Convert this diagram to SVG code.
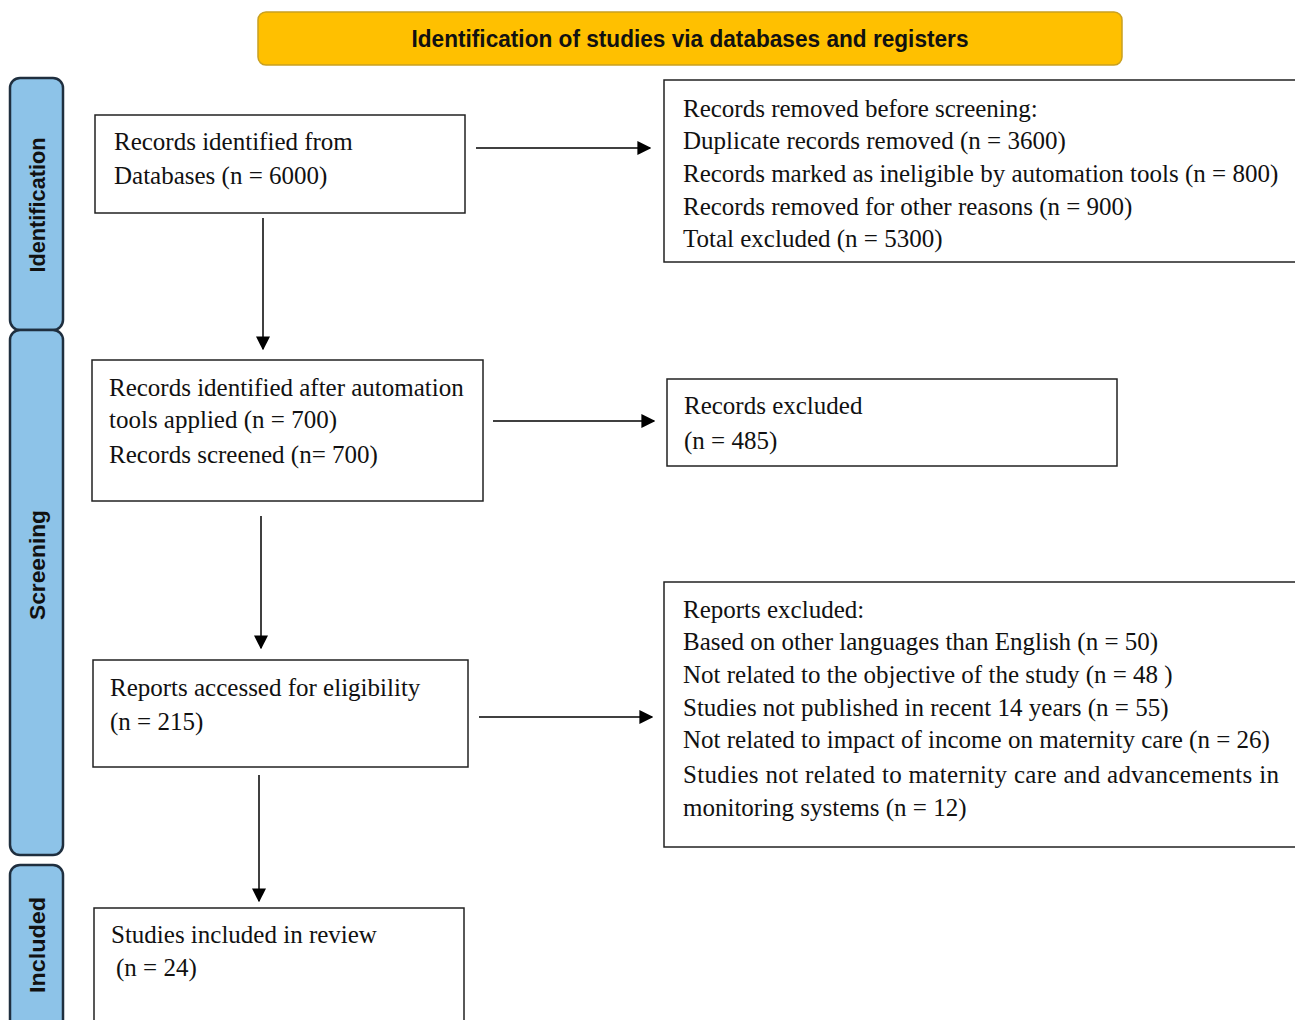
<svg xmlns="http://www.w3.org/2000/svg" width="1295" height="1020" viewBox="0 0 1295 1020">
<style>
.box{fill:#fff;stroke:#222;stroke-width:1.5}
.side{fill:#8DC3E8;stroke:#1f2f3f;stroke-width:2.5}
.t{font-family:"Liberation Serif","Times New Roman",serif;font-size:25px;fill:#111}
.s{font-family:"Liberation Sans",Arial,sans-serif;font-weight:bold;font-size:22px;fill:#111}
.c{stroke:#000;stroke-width:1.5;fill:none;marker-end:url(#ah)}
</style>
<defs>
<marker id="ah" viewBox="0 0 10 10" refX="9" refY="5" markerWidth="14" markerHeight="14" markerUnits="userSpaceOnUse" orient="auto">
<path d="M0,0 L10,5 L0,10 z" fill="#000"/>
</marker>
</defs>
<rect width="1295" height="1020" fill="#fff"/>
<g id="banner">
<rect x="258" y="12" width="864" height="53" rx="8" fill="#FFC000" stroke="#C9A020" stroke-width="1.5"/>
<text class="s" x="690" y="47" text-anchor="middle" style="font-size:23px" textLength="557" lengthAdjust="spacingAndGlyphs">Identification of studies via databases and registers</text>
</g>
<g id="side-identification">
<rect class="side" x="10" y="78" width="53" height="252" rx="10"/>
<text class="s" transform="translate(45,205) rotate(-90)" text-anchor="middle" textLength="135" lengthAdjust="spacingAndGlyphs">Identification</text>
</g>
<g id="side-screening">
<rect class="side" x="10" y="330" width="53" height="525" rx="10"/>
<text class="s" transform="translate(45,565) rotate(-90)" text-anchor="middle" textLength="110" lengthAdjust="spacingAndGlyphs">Screening</text>
</g>
<g id="side-included">
<rect class="side" x="10" y="865" width="53" height="170" rx="10"/>
<text class="s" transform="translate(45,945) rotate(-90)" text-anchor="middle" textLength="96" lengthAdjust="spacingAndGlyphs">Included</text>
</g>
<g id="n1">
<rect class="box" x="95" y="115" width="370" height="98"/>
<text class="t" x="114" y="150">Records identified from</text>
<text class="t" x="114" y="184">Databases (n = 6000)</text>
</g>
<g id="n2">
<rect class="box" x="664" y="80" width="640" height="182"/>
<text class="t" x="683" y="117">Records removed before screening:</text>
<text class="t" x="683" y="149">Duplicate records removed (n = 3600)</text>
<text class="t" x="683" y="182">Records marked as ineligible by automation tools (n = 800)</text>
<text class="t" x="683" y="215">Records removed for other reasons (n = 900)</text>
<text class="t" x="683" y="247">Total excluded (n = 5300)</text>
</g>
<g id="n3">
<rect class="box" x="92" y="360" width="391" height="141"/>
<text class="t" x="109" y="396">Records identified after automation</text>
<text class="t" x="109" y="428">tools applied (n = 700)</text>
<text class="t" x="109" y="463">Records screened (n= 700)</text>
</g>
<g id="n4">
<rect class="box" x="667" y="379" width="450" height="87"/>
<text class="t" x="684" y="414">Records excluded</text>
<text class="t" x="684" y="449">(n = 485)</text>
</g>
<g id="n5">
<rect class="box" x="93" y="660" width="375" height="107"/>
<text class="t" x="110" y="696">Reports accessed for eligibility</text>
<text class="t" x="110" y="730">(n = 215)</text>
</g>
<g id="n6">
<rect class="box" x="664" y="582" width="640" height="265"/>
<text class="t" x="683" y="618">Reports excluded:</text>
<text class="t" x="683" y="650">Based on other languages than English (n = 50)</text>
<text class="t" x="683" y="683">Not related to the objective of the study (n = 48 )</text>
<text class="t" x="683" y="716">Studies not published in recent 14 years (n = 55)</text>
<text class="t" x="683" y="748">Not related to impact of income on maternity care (n = 26)</text>
<text class="t" x="683" y="783" textLength="596" lengthAdjust="spacing">Studies not related to maternity care and advancements in</text>
<text class="t" x="683" y="816">monitoring systems (n = 12)</text>
</g>
<g id="n7">
<rect class="box" x="94" y="908" width="370" height="120"/>
<text class="t" x="111" y="943">Studies included in review</text>
<text class="t" x="116" y="976">(n = 24)</text>
</g>
<g id="connectors">
<line class="c" x1="476" y1="148" x2="650" y2="148"/>
<line class="c" x1="263" y1="218" x2="263" y2="349"/>
<line class="c" x1="493" y1="421" x2="654" y2="421"/>
<line class="c" x1="261" y1="516" x2="261" y2="648"/>
<line class="c" x1="479" y1="717" x2="652" y2="717"/>
<line class="c" x1="259" y1="775" x2="259" y2="901"/>
</g>
</svg>
